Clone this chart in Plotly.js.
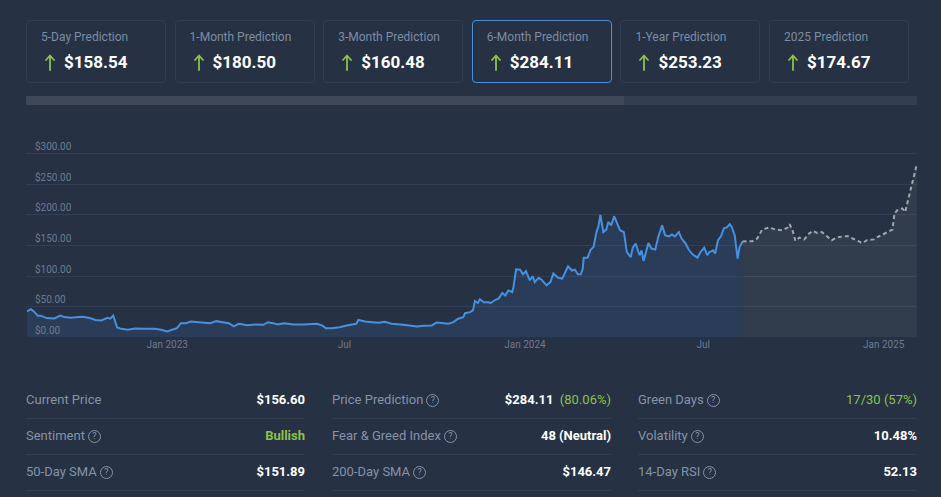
<!DOCTYPE html>
<html>
<head>
<meta charset="utf-8">
<script src="https://cdn.plot.ly/plotly-3.0.1.min.js"></script>
<style>
  html, body { margin:0; padding:0; background:#263143; width:941px; height:497px; overflow:hidden; font-family: Roboto, "Noto Sans", sans-serif; }
  .card { position:absolute; top:20px; width:138px; height:61px; border:1px solid #313d50; border-radius:4px; box-sizing:content-box; }
  .card.sel { border-color:#4a8fdc; }
  .card .t { position:absolute; left:14px; top:9px; font-size:12px; color:#7d8ca2; white-space:nowrap; }
  .card .v { position:absolute; left:37px; top:31px; font-size:17px; font-weight:700; color:#ffffff; white-space:nowrap; }
  .card svg { position:absolute; left:18px; top:33px; }
  #bar { position:absolute; left:26px; top:96px; width:891px; height:9px; background:#323d4f; }
  #bar .on { position:absolute; left:0; top:0; width:598px; height:9px; background:#3e4858; }
  #chart { position:absolute; left:0; top:120px; width:941px; height:245px; }
  .row { position:absolute; height:36px; border-bottom:1px solid #323e50; width:279px; }
  .row .l { position:absolute; left:0; top:10px; font-size:13px; color:#8593a8; white-space:nowrap; }
  .row .r { position:absolute; right:0; top:10px; font-size:13px; font-weight:700; color:#ffffff; white-space:nowrap; }
  .q { display:inline-block; width:11px; height:11px; border:1px solid #8593a8; border-radius:50%; font-size:9px; line-height:11px; text-align:center; vertical-align:1px; margin-left:3px; }
  .g { color:#8bc34a; }
  .gn { color:#8bc34a; font-weight:400; }
</style>
</head>
<body>
<div id="cards"></div>
<div id="bar"><div class="on"></div></div>
<div id="chart"></div>
<div id="stats"></div>
<script>
// ---- Data ----
const cardTitles = ["5-Day Prediction","1-Month Prediction","3-Month Prediction","6-Month Prediction","1-Year Prediction","2025 Prediction"];
const cardValues = ["$158.54","$180.50","$160.48","$284.11","$253.23","$174.67"];
const selectedCard = 3;

const histDates = ["2022-08-11","2022-08-15","2022-08-18","2022-08-22","2022-08-25","2022-08-31","2022-09-08","2022-09-14","2022-09-18","2022-09-25",
"2022-10-02","2022-10-07","2022-10-14","2022-10-20","2022-10-26","2022-11-01","2022-11-04","2022-11-07","2022-11-11","2022-11-15",
"2022-11-22","2022-11-29","2022-12-09","2022-12-19","2022-12-26","2023-01-01","2023-01-06","2023-01-11","2023-01-15","2023-01-20",
"2023-01-25","2023-02-01","2023-02-09","2023-02-14","2023-02-20","2023-02-28","2023-03-05","2023-03-10","2023-03-15","2023-03-24",
"2023-03-31","2023-04-09","2023-04-14","2023-04-19","2023-04-24","2023-04-30","2023-05-10","2023-05-20","2023-06-03","2023-06-08",
"2023-06-12","2023-06-18","2023-06-26","2023-07-02","2023-07-08","2023-07-13","2023-07-15","2023-07-22","2023-07-29","2023-08-05",
"2023-08-11","2023-08-18","2023-08-30","2023-09-13","2023-09-20","2023-09-28","2023-10-03","2023-10-08","2023-10-15","2023-10-20",
"2023-10-25","2023-10-30","2023-11-01","2023-11-06","2023-11-09","2023-11-11","2023-11-14","2023-11-16","2023-11-20","2023-11-25",
"2023-11-27","2023-12-02","2023-12-05","2023-12-09","2023-12-12","2023-12-15","2023-12-19","2023-12-20","2023-12-23","2023-12-27",
"2023-12-30","2024-01-02","2024-01-06","2024-01-09","2024-01-11","2024-01-15","2024-01-18","2024-01-23","2024-01-27","2024-01-30",
"2024-02-04","2024-02-08","2024-02-11","2024-02-14","2024-02-18","2024-02-21","2024-02-24","2024-02-27","2024-02-29","2024-03-01",
"2024-03-05","2024-03-08","2024-03-11","2024-03-14","2024-03-16","2024-03-18","2024-03-21","2024-03-24","2024-03-26","2024-03-29",
"2024-04-01","2024-04-04","2024-04-07","2024-04-11","2024-04-14","2024-04-18","2024-04-20","2024-04-23","2024-04-25","2024-04-27",
"2024-04-29","2024-05-01","2024-05-04","2024-05-06","2024-05-09","2024-05-13","2024-05-16","2024-05-18","2024-05-20","2024-05-23",
"2024-05-27","2024-05-30","2024-06-02","2024-06-06","2024-06-09","2024-06-13","2024-06-16","2024-06-20","2024-06-25","2024-06-28",
"2024-07-02","2024-07-05","2024-07-07","2024-07-11","2024-07-13","2024-07-16","2024-07-19","2024-07-22","2024-07-25","2024-07-28",
"2024-07-30","2024-08-02","2024-08-05","2024-08-07","2024-08-10"];
const histPrices = [42,45.7,42,35,35,31,30.4,35,32.6,31.5,
32.6,33,31,28,27,31.5,30,35,15.6,13.4,
11.8,14,13.4,13.4,11.8,9,11.8,14.5,22.7,22.7,
25.5,24.3,23.8,22.7,26,23.8,22.7,17.3,21.7,19.4,
20.5,20,24.3,22.7,20.5,22.7,20.5,20.5,21.7,19,
14.5,14.5,16,18.4,20.5,21.7,28,25.5,24.3,23.3,
25,21.7,20,17.3,18.4,19,23.8,22.7,21.7,24.3,
30,32.6,39,40.8,43.6,59,55.6,62,57,57,
55.6,61,62.8,72,68,76.4,73.7,79,111,110.5,
102.7,108,93,99.5,90,97,94,84.7,90,104,
97,95.7,106.5,116,109,110.5,102.7,102.7,112,130,
130,143,147.6,172,181.7,200,172,176,188.7,183,
198,186,175,172,139,131,146.6,153,142,134,
142,124.6,142,154,145,143.4,164,172,183,167,
165,168,165,172,161,153,143.4,135.6,130,139,
146.6,134,139,142,136.8,158.6,165,178,179.5,185,
180.5,167,128.6,147.6,156.6];

const predDates = ["2024-08-10","2024-08-20","2024-08-25","2024-08-30","2024-09-06","2024-09-13","2024-09-20","2024-09-25","2024-09-27","2024-09-30",
"2024-10-03","2024-10-07","2024-10-12","2024-10-17","2024-10-21","2024-10-25","2024-10-30","2024-11-04","2024-11-09","2024-11-14",
"2024-11-21","2024-11-26","2024-12-03","2024-12-10","2024-12-15","2024-12-22","2024-12-27","2025-01-03","2025-01-10","2025-01-12",
"2025-01-15","2025-01-20","2025-01-23","2025-01-26","2025-01-30","2025-02-04"];
const predPrices = [156.6,157,161.4,176,179.5,176,175,179.5,185,175,
157.5,163,160,169.7,174,170.6,172,165,158.6,163,
165,165,160,154,158.6,160,165,170.6,176,202.5,
208,210.8,205,225.5,252,284.11];

const yTickVals = [0,50,100,150,200,250,300];
const yTickText = ["$0.00","$50.00","$100.00","$150.00","$200.00","$250.00","$300.00"];
const xTickVals = ["2023-01-01","2023-07-01","2024-01-01","2024-07-01","2025-01-01"];
const xTickText = ["Jan 2023","Jul","Jan 2024","Jul","Jan 2025"];

const statLabels = [["Current Price","Sentiment","50-Day SMA"],["Price Prediction","Fear & Greed Index","200-Day SMA"],["Green Days","Volatility","14-Day RSI"]];
const statHelp = [[false,true,true],[true,true,true],[true,true,true]];
const statValues = [["$156.60","<span class='g'>Bullish</span>","$151.89"],
  ["$284.11&nbsp;&nbsp;<span class='gn'>(80.06%)</span>","48 (Neutral)","$146.47"],
  ["<span class='gn'>17/30 (57%)</span>","10.48%","52.13"]];

// ---- Cards ----
const arrowSvg = '<svg width="10" height="17" viewBox="0 0 10 17"><path d="M5 16 V2 M1 6 L5 1.5 L9 6" stroke="#8bc34a" stroke-width="1.8" fill="none" stroke-linecap="round" stroke-linejoin="round"/></svg>';
const cardsEl = document.getElementById('cards');
cardTitles.forEach((t,i)=>{
  const d = document.createElement('div');
  d.className = 'card' + (i===selectedCard?' sel':'');
  d.style.left = (26 + i*148.6) + 'px';
  d.innerHTML = `<div class="t">${t}</div>${arrowSvg}<div class="v">${cardValues[i]}</div>`;
  cardsEl.appendChild(d);
});

// ---- Stats ----
const statsEl = document.getElementById('stats');
const colX = [26,332,638], rowY = [382,418,454];
for (let c=0;c<3;c++) for (let r=0;r<3;r++){
  const d = document.createElement('div');
  d.className='row';
  d.style.left = colX[c]+'px'; d.style.top = rowY[r]+'px';
  d.innerHTML = `<div class="l">${statLabels[c][r]}${statHelp[c][r]?'<span class="q">?</span>':''}</div><div class="r">${statValues[c][r]}</div>`;
  statsEl.appendChild(d);
}

// ---- Chart ----
const traces = [
  { x: histDates, y: histPrices, type:'scatter', mode:'lines', line:{color:'#4591e1', width:2}, fill:'tozeroy', fillcolor:'rgba(66,140,225,0.13)', hoverinfo:'skip' },
  { x: predDates, y: predPrices, type:'scatter', mode:'lines', line:{color:'#a3a7ad', width:2, dash:'4px,3px'}, fill:'tozeroy', fillcolor:'rgba(255,255,255,0.055)', hoverinfo:'skip' }
];
const layout = {
  width:941, height:245,
  margin:{l:26, r:24, t:8, b:28},
  paper_bgcolor:'rgba(0,0,0,0)', plot_bgcolor:'rgba(0,0,0,0)',
  showlegend:false,
  xaxis:{ type:'date', range:['2022-08-10','2025-02-04'], showgrid:false, zeroline:false, showline:false,
          tickmode:'array', tickvals:xTickVals, ticktext:xTickText, ticks:'',
          tickfont:{family:'Roboto', size:10, color:'#6d7b90'} },
  yaxis:{ range:[0,342.6], tickmode:'array', tickvals:yTickVals, ticktext:yTickText,
          showgrid:true, gridcolor:'#323f52', gridwidth:1, zeroline:false, showline:false, ticks:'',
          ticklabelposition:'inside', ticklabelshift:-7, ticklabelstandoff:6,
          tickfont:{family:'Roboto', size:10, color:'#6d7b90'} }
};
Plotly.newPlot('chart', traces, layout, {staticPlot:true, displayModeBar:false});
</script>
</body>
</html>
